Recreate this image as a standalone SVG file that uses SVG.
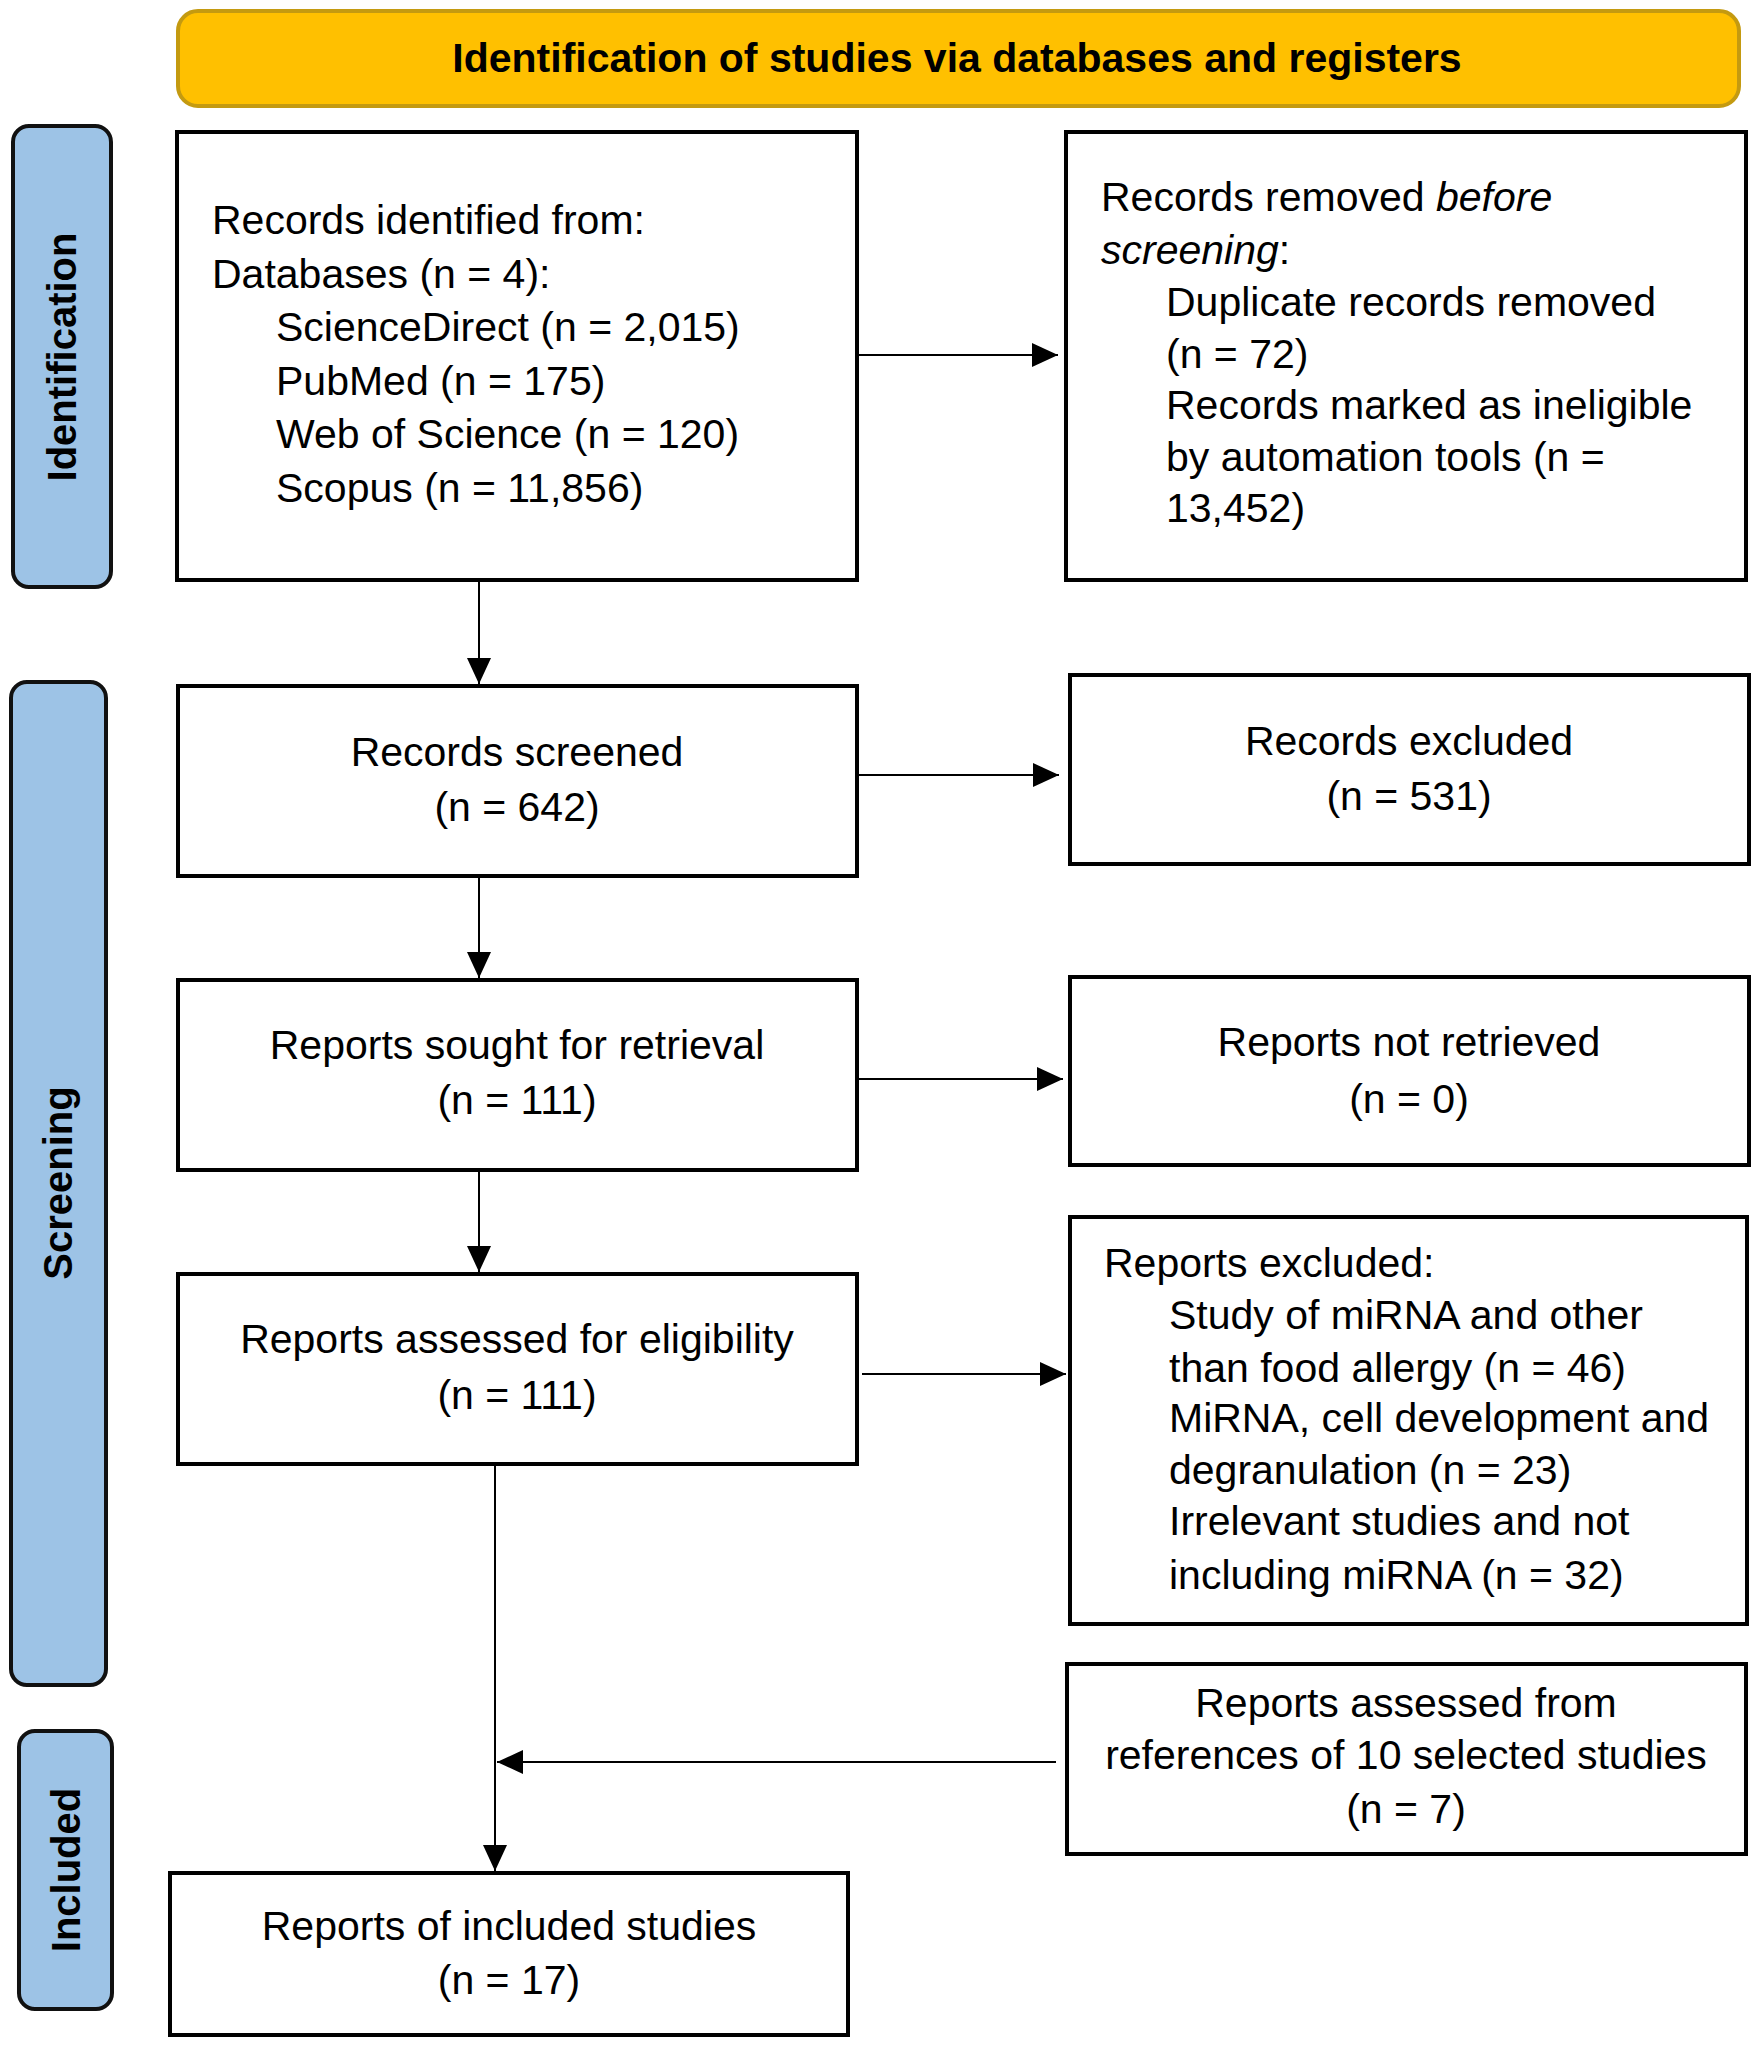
<svg xmlns="http://www.w3.org/2000/svg" width="1760" height="2048" viewBox="0 0 1760 2048">
<defs>
<style>
.box{fill:#ffffff;stroke:#000000;stroke-width:4}
.tab{fill:#9DC3E6;stroke:#111111;stroke-width:4}
.hdr{fill:#FFC000;stroke:#C49A10;stroke-width:4}
.t{font-family:"Liberation Sans",Arial,sans-serif;font-size:41px;fill:#000000}
.c{text-anchor:middle}
.b{font-family:"Liberation Sans",Arial,sans-serif;font-size:41px;font-weight:bold;fill:#000000}
.tl{font-family:"Liberation Sans",Arial,sans-serif;font-size:40px;font-weight:bold;fill:#000000;text-anchor:middle}
.ln{stroke:#000000;stroke-width:2;fill:none}
</style>
<marker id="ah" viewBox="0 0 26 24" refX="26" refY="12" markerWidth="26" markerHeight="24" markerUnits="userSpaceOnUse" orient="auto">
<path d="M0,0 L26,12 L0,24 Z" fill="#000000"/>
</marker>
</defs>
<rect width="1760" height="2048" fill="#ffffff"/>

<g id="header">
<rect class="hdr" x="178" y="11" width="1561" height="95" rx="20" ry="20"/>
<text class="b" x="957" y="72" text-anchor="middle">Identification of studies via databases and registers</text>
</g>

<g id="tab-identification">
<rect class="tab" x="13" y="126" width="98" height="461" rx="16" ry="16"/>
<text class="tl" transform="translate(76,357) rotate(-90)">Identification</text>
</g>
<g id="tab-screening">
<rect class="tab" x="11" y="682" width="95" height="1003" rx="16" ry="16"/>
<text class="tl" transform="translate(72,1183) rotate(-90)">Screening</text>
</g>
<g id="tab-included">
<rect class="tab" x="19" y="1731" width="93" height="278" rx="16" ry="16"/>
<text class="tl" transform="translate(80,1870) rotate(-90)">Included</text>
</g>

<g id="records-identified">
<rect class="box" x="177" y="132" width="680" height="448"/>
<text class="t" x="212" y="234">Records identified from:</text>
<text class="t" x="212" y="288">Databases (n = 4):</text>
<text class="t" x="276" y="341">ScienceDirect (n = 2,015)</text>
<text class="t" x="276" y="395">PubMed (n = 175)</text>
<text class="t" x="276" y="448">Web of Science (n = 120)</text>
<text class="t" x="276" y="502">Scopus (n = 11,856)</text>
</g>

<g id="records-removed">
<rect class="box" x="1066" y="132" width="680" height="448"/>
<text class="t" x="1101" y="211">Records removed <tspan font-style="italic">before</tspan></text>
<text class="t" x="1101" y="264"><tspan font-style="italic">screening</tspan>:</text>
<text class="t" x="1166" y="316">Duplicate records removed</text>
<text class="t" x="1166" y="368">(n = 72)</text>
<text class="t" x="1166" y="419">Records marked as ineligible</text>
<text class="t" x="1166" y="471">by automation tools (n =</text>
<text class="t" x="1166" y="522">13,452)</text>
</g>

<g id="records-screened">
<rect class="box" x="178" y="686" width="679" height="190"/>
<text class="t c" x="517" y="766">Records screened</text>
<text class="t c" x="517" y="821">(n = 642)</text>
</g>

<g id="records-excluded">
<rect class="box" x="1070" y="675" width="679" height="189"/>
<text class="t c" x="1409" y="755">Records excluded</text>
<text class="t c" x="1409" y="810">(n = 531)</text>
</g>

<g id="reports-sought">
<rect class="box" x="178" y="980" width="679" height="190"/>
<text class="t c" x="517" y="1059">Reports sought for retrieval</text>
<text class="t c" x="517" y="1114">(n = 111)</text>
</g>

<g id="reports-not-retrieved">
<rect class="box" x="1070" y="977" width="679" height="188"/>
<text class="t c" x="1409" y="1056">Reports not retrieved</text>
<text class="t c" x="1409" y="1113">(n = 0)</text>
</g>

<g id="reports-assessed">
<rect class="box" x="178" y="1274" width="679" height="190"/>
<text class="t c" x="517" y="1353">Reports assessed for eligibility</text>
<text class="t c" x="517" y="1409">(n = 111)</text>
</g>

<g id="reports-excluded">
<rect class="box" x="1070" y="1217" width="677" height="407"/>
<text class="t" x="1104" y="1277">Reports excluded:</text>
<text class="t" x="1169" y="1329">Study of miRNA and other</text>
<text class="t" x="1169" y="1382">than food allergy (n = 46)</text>
<text class="t" x="1169" y="1432">MiRNA, cell development and</text>
<text class="t" x="1169" y="1484">degranulation (n = 23)</text>
<text class="t" x="1169" y="1535">Irrelevant studies and not</text>
<text class="t" x="1169" y="1589">including miRNA (n = 32)</text>
</g>

<g id="reports-from-references">
<rect class="box" x="1067" y="1664" width="679" height="190"/>
<text class="t c" x="1406" y="1717">Reports assessed from</text>
<text class="t c" x="1406" y="1769">references of 10 selected studies</text>
<text class="t c" x="1406" y="1823">(n = 7)</text>
</g>

<g id="reports-included">
<rect class="box" x="170" y="1873" width="678" height="162"/>
<text class="t c" x="509" y="1940">Reports of included studies</text>
<text class="t c" x="509" y="1994">(n = 17)</text>
</g>

<g id="connectors">
<line class="ln" x1="479" y1="582" x2="479" y2="684" marker-end="url(#ah)"/>
<line class="ln" x1="857" y1="355" x2="1058" y2="355" marker-end="url(#ah)"/>
<line class="ln" x1="857" y1="775" x2="1059" y2="775" marker-end="url(#ah)"/>
<line class="ln" x1="479" y1="878" x2="479" y2="978" marker-end="url(#ah)"/>
<line class="ln" x1="859" y1="1079" x2="1063" y2="1079" marker-end="url(#ah)"/>
<line class="ln" x1="479" y1="1172" x2="479" y2="1272" marker-end="url(#ah)"/>
<line class="ln" x1="862" y1="1374" x2="1066" y2="1374" marker-end="url(#ah)"/>
<line class="ln" x1="495" y1="1466" x2="495" y2="1871" marker-end="url(#ah)"/>
<line class="ln" x1="1056" y1="1762" x2="497" y2="1762" marker-end="url(#ah)"/>
</g>
</svg>
